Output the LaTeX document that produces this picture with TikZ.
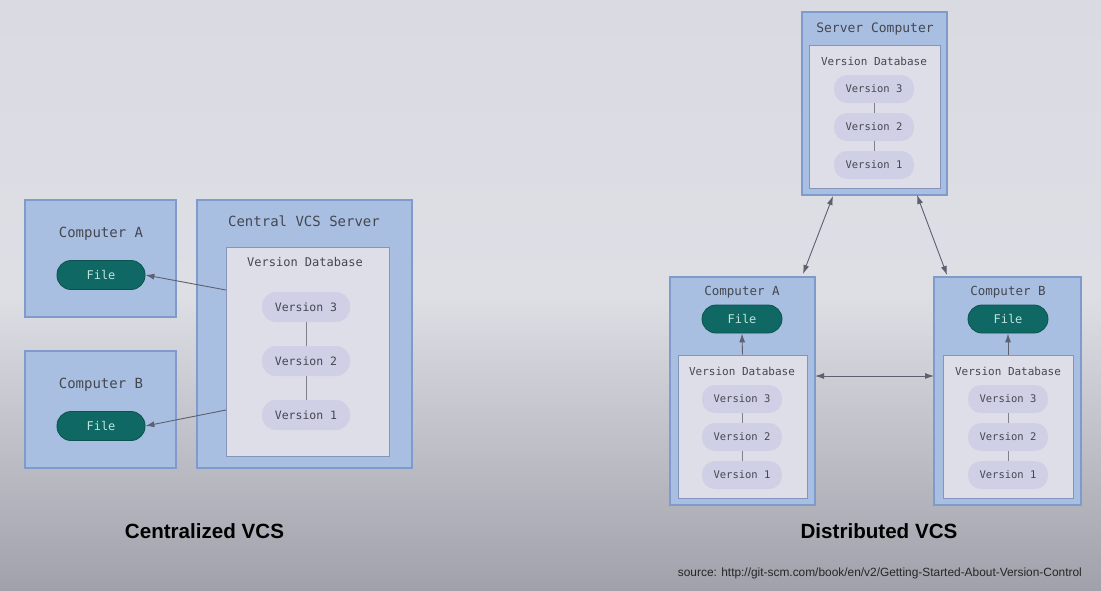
\documentclass[tikz,border=0pt]{standalone}
\usepackage{fontspec}
\setmainfont{Liberation Sans}
\newfontfamily\monofont{DejaVu Sans Mono}
\usetikzlibrary{arrows.meta,calc}
\definecolor{bgtop}{HTML}{DADAE3}
\definecolor{bgmid}{HTML}{DEDEE5}
\definecolor{bgbot}{HTML}{A0A1AA}
\definecolor{boxfill}{HTML}{A8BFE2}
\definecolor{boxline}{HTML}{7E9BCB}
\definecolor{dbfill}{HTML}{DEDEE8}
\definecolor{dbline}{HTML}{8494BC}
\definecolor{verfill}{HTML}{CFD0E6}
\definecolor{filefill}{HTML}{0F6863}
\definecolor{filetext}{HTML}{BFE3DD}
\definecolor{txt}{HTML}{45474F}
\definecolor{arr}{HTML}{5C6070}
\tikzset{
  outerbox/.style={draw=boxline, fill=boxfill, line width=1.4pt, minimum width=#1, inner sep=0pt},
  dbbox/.style={draw=dbline, fill=dbfill, line width=1pt, inner sep=0pt},
  lbl/.style={text=txt, font=\monofont\fontsize{#1}{#1}\selectfont, inner sep=0pt},
  verpill/.style={fill=verfill, rounded corners=14pt, minimum width=#1, minimum height=30pt, text=txt, font=\monofont\fontsize{11.5}{11.5}\selectfont, inner sep=0pt},
  smallpill/.style={fill=verfill, rounded corners=13pt, minimum width=80pt, minimum height=28pt, text=txt, font=\monofont\fontsize{10.5}{10.5}\selectfont, inner sep=0pt},
  filepill/.style={draw=filefill!80!black, line width=0.8pt, fill=filefill, rounded corners=14pt, minimum width=#1, minimum height=29pt, text=filetext, font=\monofont\fontsize{12}{12}\selectfont, inner sep=0pt},
  conn/.style={draw=arr, line width=0.9pt},
  arrowl/.style={conn, -{Latex[length=9pt,width=6pt]}},
  darrow/.style={conn, {Latex[length=9pt,width=6pt]}-{Latex[length=9pt,width=6pt]}},
  caption/.style={font=\bfseries\fontsize{20.6}{20.6}\selectfont, text=black, inner sep=0pt},
}
\begin{document}
\begin{tikzpicture}[x=1pt,y=-1pt]
\shade[top color=bgtop, bottom color=bgbot, middle color=bgmid] (0,0) rectangle (1101,590);
\useasboundingbox (0,0) rectangle (1101,590);

% ---------- Centralized ----------
\node[outerbox=151pt, minimum height=117pt] (ca) at (100.5,258.5) {};
\node[lbl=14] (caL) at (101,234) {Computer A};
\node[filepill=88pt] (fa) at (101,275) {File};

\node[outerbox=151pt, minimum height=117pt] (cb) at (100.5,409.5) {};
\node[lbl=14] (cbL) at (101,385) {Computer B};
\node[filepill=88pt] (fb) at (101,426) {File};

\node[outerbox=215pt, minimum height=268pt] (srv) at (304.5,334) {};
\node[lbl=14] (srvL) at (304,221) {Central VCS Server};
\node[dbbox, minimum width=163pt, minimum height=209pt] (db) at (307.5,351.5) {};
\node[lbl=12] (dbL) at (305,262) {Version Database};
\node[verpill=88pt] (v3) at (306,307) {Version 3};
\node[verpill=88pt] (v2) at (306,361) {Version 2};
\node[verpill=88pt] (v1) at (306,415) {Version 1};
\draw[draw=arr!80, line width=0.9pt] (v3) -- (v2);
\draw[draw=arr!80, line width=0.9pt] (v2) -- (v1);
\coordinate (sa) at (226,290);
\coordinate (sb) at (226,410);
\draw[arrowl] (sa) -- (fa.east);
\draw[arrowl] (sb) -- (fb.east);

\node[caption] (capC) at (204.5,531) {Centralized VCS};

% ---------- Distributed ----------
\node[outerbox=145pt, minimum height=183pt] (sc) at (874.5,103.5) {};
\node[lbl=13] (scL) at (875,29) {Server Computer};
\node[dbbox, minimum width=131pt, minimum height=143pt] (sdb) at (874.5,116.5) {};
\node[lbl=11] (sdbL) at (874,61) {Version Database};
\node[smallpill] (s3) at (874,89) {Version 3};
\node[smallpill] (s2) at (874,127) {Version 2};
\node[smallpill] (s1) at (874,165) {Version 1};
\draw[draw=arr!80, line width=0.8pt] (s3) -- (s2);
\draw[draw=arr!80, line width=0.8pt] (s2) -- (s1);

% Computer A (distributed)
\node[outerbox=145pt, minimum height=228pt] (da) at (742.5,391) {};
\node[lbl=12.5] (daL) at (742,292) {Computer A};
\node[filepill=80pt, minimum height=28pt] (dfa) at (742,319) {File};
\node[dbbox, minimum width=129pt, minimum height=143pt] (dadb) at (742.5,426.5) {};
\node[lbl=11] (dadbL) at (742,371) {Version Database};
\node[smallpill] (a3) at (742,399) {Version 3};
\node[smallpill] (a2) at (742,437) {Version 2};
\node[smallpill] (a1) at (742,475) {Version 1};
\draw[draw=arr!80, line width=0.8pt] (a3) -- (a2);
\draw[draw=arr!80, line width=0.8pt] (a2) -- (a1);
\draw[arrowl] (dadb.north) -- (dfa.south);

% Computer B (distributed)
\node[outerbox=147pt, minimum height=228pt] (dbb) at (1007.5,391) {};
\node[lbl=12.5] (dbbL) at (1008,292) {Computer B};
\node[filepill=80pt, minimum height=28pt] (dfb) at (1008,319) {File};
\node[dbbox, minimum width=130pt, minimum height=143pt] (dbdb) at (1008,426.5) {};
\node[lbl=11] (dbdbL) at (1008,371) {Version Database};
\node[smallpill] (b3) at (1008,399) {Version 3};
\node[smallpill] (b2) at (1008,437) {Version 2};
\node[smallpill] (b1) at (1008,475) {Version 1};
\draw[draw=arr!80, line width=0.8pt] (b3) -- (b2);
\draw[draw=arr!80, line width=0.8pt] (b2) -- (b1);
\draw[arrowl] (dbdb.north) -- (dfb.south);

% connections
\coordinate (p1) at (833,196);
\coordinate (p2) at (803,274);
\coordinate (p3) at (917,195);
\coordinate (p4) at (947,275);
\coordinate (h1) at (815,376);
\coordinate (h2) at (934,376);
\draw[darrow] (p1) -- (p2);
\draw[darrow] (p3) -- (p4);
\draw[darrow] (h1) -- (h2);

\node[caption] (capD) at (879,531) {Distributed VCS};
\node[font=\fontsize{11.9}{11.9}\selectfont, text=black!85, inner sep=0pt, anchor=east] (src) at (1082,573) {source: http://git-scm.com/book/en/v2/Getting-Started-About-Version-Control};
\end{tikzpicture}
\end{document}
